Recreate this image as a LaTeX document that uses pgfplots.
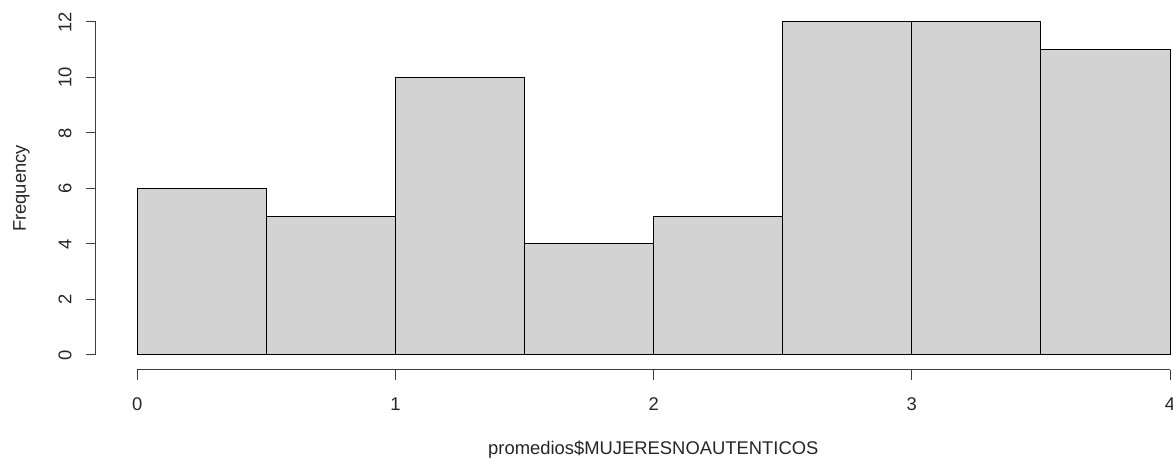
\documentclass[border=0pt]{standalone}
\usepackage{pgfplots}
\pgfplotsset{compat=1.18}
\usepackage{fontspec}
\setmainfont{Liberation Sans}
\definecolor{barfill}{RGB}{211,211,211}
\definecolor{axcol}{RGB}{60,60,60}
\begin{document}
\begin{tikzpicture}
\begin{axis}[
  scale only axis,
  width=1077.3pt, height=361.3pt,
  xmin=-0.16, xmax=4.0116,
  ymin=-0.54, ymax=12.48,
  axis x line*=bottom, axis y line*=left,
  axis line style={draw=none},
  clip=false,
  xtick={0,1,2,3,4},
  ytick={0,2,4,6,8,10,12},
  tick align=outside,
  major tick length=10pt,
  every tick/.style={axcol, line width=1pt},
  /pgf/number format/assume math mode=true,
  ticklabel style={font=\fontsize{18.4}{22}\selectfont, text=black!85},
  xticklabel style={anchor=base, yshift=-31pt},
  yticklabel style={rotate=90, anchor=base, yshift=14.5pt},
  label style={font=\fontsize{18.4}{22}\selectfont, text=black!85},
  xlabel={promedios\$MUJERESNOAUTENTICOS},
  ylabel={Frequency},
  xlabel style={at={(axis description cs:0.5175,-0.2353)}, anchor=base},
  ylabel style={at={(axis description cs:-0.065,0.5024)}, anchor=base, rotate=0},
]
\addplot[ybar interval, fill=barfill, draw=black, line width=1pt] coordinates {
  (0,6) (0.5,5) (1,10) (1.5,4) (2,5) (2.5,12) (3,12) (3.5,11) (4,11)
};
\draw[axcol, line width=1pt] (axis cs:0,-0.54) -- (axis cs:4,-0.54);
\draw[axcol, line width=1pt] (axis cs:-0.16,0) -- (axis cs:-0.16,12);
\coordinate (bbl) at (axis cs:-0.5317,-3.783);
\coordinate (bbr) at (axis cs:4.0116,12.793);
\end{axis}
\pgfresetboundingbox
\path (bbl) rectangle (bbr);
\end{tikzpicture}
\end{document}
